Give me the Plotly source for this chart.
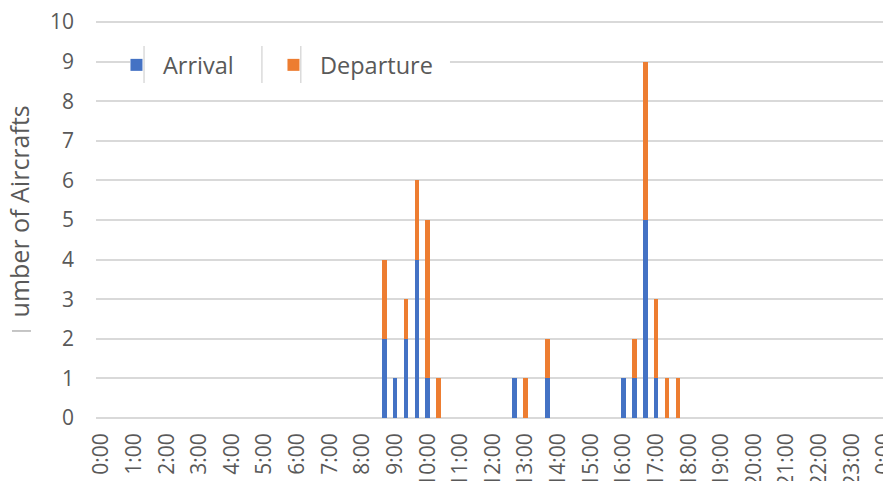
import plotly.graph_objects as go

# 20-minute time bins with traffic (all other bins are zero)
times = ["8:40", "9:00", "9:20", "9:40", "10:00", "10:20",
         "12:40", "13:00", "13:40",
         "16:00", "16:20", "16:40", "17:00", "17:20", "17:40"]
arrival = [2, 1, 2, 4, 1, 0, 1, 0, 1, 1, 1, 5, 1, 0, 0]
departure = [2, 0, 1, 2, 4, 1, 0, 1, 1, 0, 1, 4, 2, 1, 1]

tick_hours = list(range(25))
tick_labels = ["0:00", "1:00", "2:00", "3:00", "4:00", "5:00", "6:00", "7:00",
               "8:00", "9:00", "10:00", "11:00", "12:00", "13:00", "14:00",
               "15:00", "16:00", "17:00", "18:00", "19:00", "20:00", "21:00",
               "22:00", "23:00", "0:00"]


def to_hours(t):
    h, m = t.split(":")
    return int(h) + int(m) / 60


x_hours = [to_hours(t) for t in times]

FONT = "Open Sans, Segoe UI, sans-serif"
TXT = "#595959"
GRID = "#d9d9d9"

fig = go.Figure()
fig.add_trace(go.Bar(x=x_hours, y=arrival, name="Arrival",
                     marker=dict(color="#4472C4", line=dict(width=0)),
                     width=0.14, legendwidth=99))
fig.add_trace(go.Bar(x=x_hours, y=departure, name="Departure",
                     marker=dict(color="#ED7D31", line=dict(width=0)),
                     width=0.14, legendwidth=130))

vlines = [0.0605, 0.209, 0.258]
shapes = [dict(type="rect", xref="paper", yref="paper", x0=0.0428, x1=0.4458,
               y0=0.8618, y1=0.9246, fillcolor="white", line=dict(width=0),
               layer="above")]
for vx in vlines:
    shapes.append(dict(type="line", xref="paper", yref="paper", x0=vx, x1=vx,
                       y0=0.8417, y1=0.9347, line=dict(color="#c8c8c8", width=1),
                       layer="above"))
# remnant of the clipped first letter of the axis title
shapes.append(dict(type="line", xref="paper", yref="paper", x0=-0.1058,
                   x1=-0.0819, y0=0.2186, y1=0.2186,
                   line=dict(color="#8c8c8c", width=1)))

fig.update_layout(
    barmode="stack",
    width=883, height=473,
    margin=dict(l=88, r=1, t=12, b=63),
    paper_bgcolor="white", plot_bgcolor="white",
    font=dict(family=FONT, size=20, color=TXT),
    showlegend=True,
    legend=dict(orientation="h", x=0.0176, y=0.942, xanchor="left", yanchor="top",
                bgcolor="rgba(0,0,0,0)", font=dict(size=23.5, color=TXT),
                itemwidth=43, traceorder="normal"),
    xaxis=dict(range=[-1 / 6, 24 + 1 / 6], tickmode="array",
               tickvals=tick_hours, ticktext=tick_labels, tickangle=-90,
               showgrid=False, zeroline=False, showline=False, ticks="",
               automargin=False, ticklabelstandoff=10,
               ticklabeloverflow="allow",
               tickfont=dict(size=21, color=TXT)),
    yaxis=dict(range=[0, 10.05], tickmode="array",
               tickvals=[0, 1, 2, 3, 4, 5, 6, 7, 8, 9, 10],
               showgrid=True, gridcolor=GRID,
               gridwidth=1.5, zeroline=True, zerolinecolor=GRID,
               zerolinewidth=1.5, showline=False, ticks="",
               automargin=False, ticklabelstandoff=21,
               ticklabeloverflow="allow",
               tickfont=dict(size=21, color=TXT)),
    shapes=shapes,
    annotations=[
        dict(text="umber of Aircrafts", xref="paper", yref="paper",
             x=-0.097, y=0.519, xanchor="center", yanchor="middle",
             textangle=-90, showarrow=False,
             font=dict(size=25, color=TXT, family=FONT)),
    ],
)

fig.write_html("out.html")
